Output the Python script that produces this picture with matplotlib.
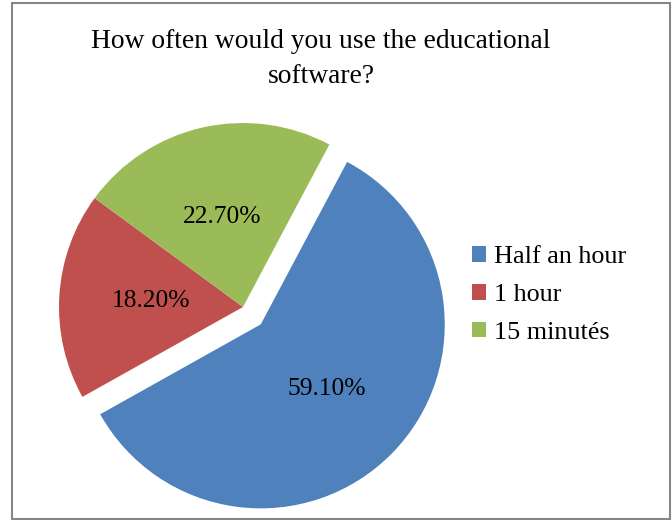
import matplotlib.pyplot as plt
from matplotlib.patches import Rectangle

# Data
labels = ["Half an hour", "1 hour", "15 minutés"]
values = [59.1, 18.2, 22.7]
colors = ["#4F81BD", "#C0504D", "#9BBB59"]
title = "How often would you use the educational\nsoftware?"

plt.rcParams['font.family'] = ['Liberation Serif', 'DejaVu Serif']

fig = plt.figure(figsize=(6.72, 5.2), dpi=100)
W, H = 672, 520

# pie centre (px from top-left) and radius in px
cx, cy, r = 243, 307, 184
ax = fig.add_axes([(cx - r) / W, (H - cy - r) / H, 2 * r / W, 2 * r / H])

wedges, texts, autotexts = ax.pie(
    values, colors=colors, startangle=62, counterclock=False,
    explode=[0.135, 0, 0], autopct='%1.2f%%', pctdistance=0.5,
    radius=1, wedgeprops=dict(linewidth=0), textprops=dict(fontsize=18.4))
ax.set_xlim(-1, 1)
ax.set_ylim(-1, 1)
for w in wedges:
    w.set_clip_on(False)

fig.text(321 / W, 1 - 83 / H, title, ha='center', va='baseline',
         fontsize=19.8, linespacing=1.5)

fig.legend(wedges, labels, loc='center left', bbox_to_anchor=(448 / W, 1 - 295 / H),
           frameon=False, fontsize=18.8, handlelength=0.55, handleheight=0.55,
           handletextpad=0.3, labelspacing=0.6)

# border around the chart area
fig.patches.append(Rectangle((11.5 / W, 1.5 / H), 658 / W, 516 / H,
                             transform=fig.transFigure, fill=False,
                             edgecolor='#868686', linewidth=1.5))

fig.savefig("out.png", dpi=100)
